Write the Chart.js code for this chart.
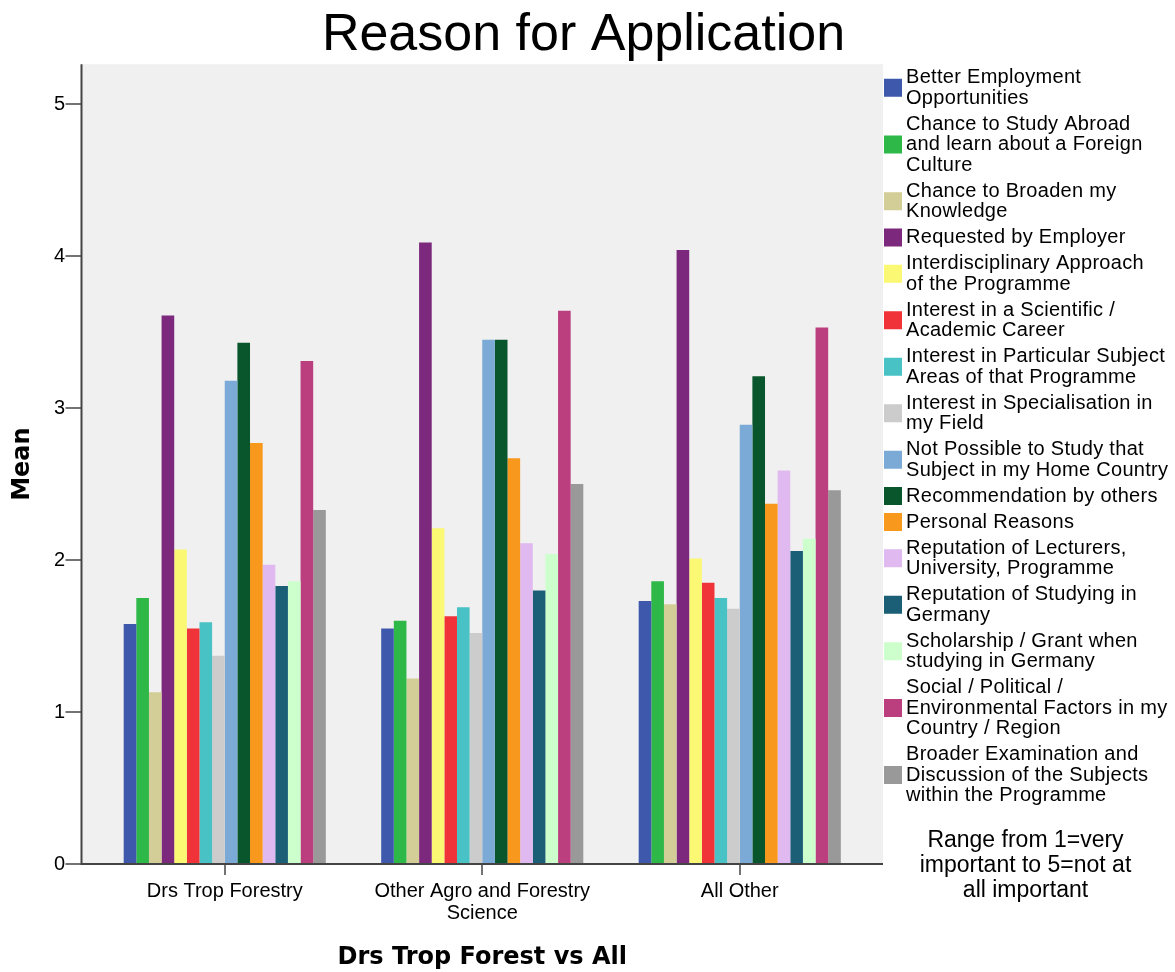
<!DOCTYPE html>
<html><head><meta charset="utf-8">
<script src="https://cdn.jsdelivr.net/npm/chart.js@4/dist/chart.umd.min.js"></script>
<style>html,body{margin:0;padding:0;background:#fff}canvas{display:block}</style>
</head><body>
<canvas id="c" width="1175" height="972"></canvas>
<script>
// ---- data ----
const categories = [['Drs Trop Forestry'], ['Other Agro and Forestry', 'Science'], ['All Other']];
const yTicks = [0, 1, 2, 3, 4, 5];

const betterEmployment     = [1.58, 1.55, 1.73];
const studyAbroad          = [1.75, 1.60, 1.86];
const broadenKnowledge     = [1.13, 1.22, 1.71];
const requestedByEmployer  = [3.61, 4.09, 4.04];
const interdisciplinary    = [2.07, 2.21, 2.01];
const scientificCareer     = [1.55, 1.63, 1.85];
const particularSubject    = [1.59, 1.69, 1.75];
const specialisation       = [1.37, 1.52, 1.68];
const notPossibleAtHome    = [3.18, 3.45, 2.89];
const recommendation       = [3.43, 3.45, 3.21];
const personalReasons      = [2.77, 2.67, 2.37];
const reputationLecturers  = [1.97, 2.11, 2.59];
const reputationGermany    = [1.83, 1.80, 2.06];
const scholarship          = [1.86, 2.04, 2.14];
const socialPolitical      = [3.31, 3.64, 3.53];
const broaderExamination   = [2.33, 2.50, 2.46];

const seriesNames = [
  'Better Employment\nOpportunities',
  'Chance to Study Abroad\nand learn about a Foreign\nCulture',
  'Chance to Broaden my\nKnowledge',
  'Requested by Employer',
  'Interdisciplinary Approach\nof the Programme',
  'Interest in a Scientific /\nAcademic Career',
  'Interest in Particular Subject\nAreas of that Programme',
  'Interest in Specialisation in\nmy Field',
  'Not Possible to Study that\nSubject in my Home Country',
  'Recommendation by others',
  'Personal Reasons',
  'Reputation of Lecturers,\nUniversity, Programme',
  'Reputation of Studying in\nGermany',
  'Scholarship / Grant when\nstudying in Germany',
  'Social / Political /\nEnvironmental Factors in my\nCountry / Region',
  'Broader Examination and\nDiscussion of the Subjects\nwithin the Programme'
];
const seriesValues = [betterEmployment, studyAbroad, broadenKnowledge, requestedByEmployer,
  interdisciplinary, scientificCareer, particularSubject, specialisation, notPossibleAtHome,
  recommendation, personalReasons, reputationLecturers, reputationGermany, scholarship,
  socialPolitical, broaderExamination];
const noteLines = ['Range from 1=very', 'important to 5=not at', 'all important'];

// ---- styles ----
const seriesColors = ['#3e58ac', '#2eb848', '#d3ce97', '#7c287d', '#fbf873', '#ef3338',
  '#48c2c5', '#cccccc', '#7aaad5', '#0a562c', '#f8981d', '#dfb9ef', '#1a5f76', '#ccffcc',
  '#bb3f7f', '#999999'];

const SANS = '"Liberation Sans", Arial, sans-serif';

const framePlugin = {
  id: 'frame',
  beforeDatasetsDraw(chart) {
    const {ctx, chartArea: a} = chart;
    ctx.save();
    ctx.fillStyle = '#f0f0f0';
    ctx.fillRect(a.left - 14, a.top, (a.right + 14.5) - (a.left - 14), a.bottom - a.top);
    ctx.restore();
  },
  afterDatasetsDraw(chart) {
    const {ctx, chartArea: a, scales} = chart;
    const L = a.left - 14.5;
    ctx.save();
    ctx.strokeStyle = '#444';
    ctx.lineWidth = 2;
    ctx.beginPath();
    ctx.moveTo(L, a.top);
    ctx.lineTo(L, a.bottom);
    ctx.lineTo(a.right + 14.5, a.bottom);
    ctx.stroke();
    ctx.lineWidth = 1.5;
    scales.y.ticks.forEach(t => {
      const py = Math.round(scales.y.getPixelForValue(t.value));
      ctx.beginPath(); ctx.moveTo(L - 16, py); ctx.lineTo(L, py); ctx.stroke();
    });
    categories.forEach((c, i) => {
      const px = Math.round(scales.x.getPixelForValue(i));
      ctx.beginPath(); ctx.moveTo(px, a.bottom); ctx.lineTo(px, a.bottom + 11); ctx.stroke();
    });
    ctx.restore();
  },
  afterDraw(chart) {
    const {ctx, chartArea: a} = chart;
    ctx.save();
    const sx = a.right + 15.5, tx = a.right + 37.5;
    const lh = 20.5, gap = 5.5;
    let cy = 77.5;
    ctx.textAlign = 'left';
    ctx.textBaseline = 'middle';
    ctx.font = '20px ' + SANS;
    if ('letterSpacing' in ctx) ctx.letterSpacing = '0.3px';
    seriesNames.forEach((name, i) => {
      const lines = name.split('\n');
      const mid = cy + (lines.length - 1) * lh / 2;
      ctx.fillStyle = seriesColors[i];
      ctx.fillRect(sx, mid - 9, 18, 18);
      ctx.fillStyle = '#000';
      lines.forEach((ln, j) => ctx.fillText(ln, tx, cy + j * lh));
      cy += lines.length * lh + gap;
    });
    if ('letterSpacing' in ctx) ctx.letterSpacing = '0px';
    ctx.font = '23px ' + SANS;
    ctx.textAlign = 'center';
    noteLines.forEach((ln, j) => ctx.fillText(ln, a.right + 157, 840.5 + j * 25.3));
    ctx.restore();
  }
};

new Chart(document.getElementById('c'), {
  type: 'bar',
  data: {
    labels: categories,
    datasets: seriesValues.map((vals, i) => ({
      label: seriesNames[i].replace(/\n/g, ' '),
      data: vals,
      backgroundColor: seriesColors[i],
      borderWidth: 0,
      barPercentage: 1.0,
      categoryPercentage: 0.785,
      yAxisID: 'y'
    }))
  },
  options: {
    responsive: false,
    animation: false,
    devicePixelRatio: 1,
    layout: {padding: {left: 0, right: 8, top: 0, bottom: 0}},
    plugins: {
      legend: {display: false},
      tooltip: {enabled: false},
      title: {
        display: true,
        text: 'Reason for Application',
        color: '#000',
        font: {family: SANS, size: 52, weight: 'normal', lineHeight: 1.1},
        padding: {top: 7, bottom: 0}
      }
    },
    scales: {
      x: {
        afterFit(s) { s.height = 108; },
        grid: {display: false, drawTicks: false},
        border: {display: false},
        ticks: {padding: 16.5, color: '#000', maxRotation: 0, autoSkip: false,
                font: {family: SANS, size: 20, lineHeight: 1.1}},
        title: {display: true, text: 'Drs Trop Forest vs All', color: '#000',
                font: {family: '"DejaVu Sans", sans-serif', size: 24, weight: 'bold'},
                padding: {top: 0, bottom: 0}}
      },
      y: {
        position: 'left',
        min: 0,
        max: 5.263,
        afterBuildTicks(s) { s.ticks = yTicks.map(v => ({value: v})); },
        afterFit(s) { s.width = 96; },
        grid: {display: false, drawTicks: false},
        border: {display: false},
        ticks: {padding: 31, color: '#000', font: {family: SANS, size: 20}},
        title: {display: true, text: 'Mean', color: '#000',
                font: {family: '"DejaVu Sans", sans-serif', size: 24, weight: 'bold'},
                padding: {top: 8, bottom: 0}}
      },
      yRight: {
        position: 'right',
        display: true,
        afterFit(s) { s.width = 298.5; },
        grid: {display: false, drawTicks: false},
        border: {display: false},
        ticks: {display: false}
      }
    }
  },
  plugins: [framePlugin]
});
</script>
</body></html>
